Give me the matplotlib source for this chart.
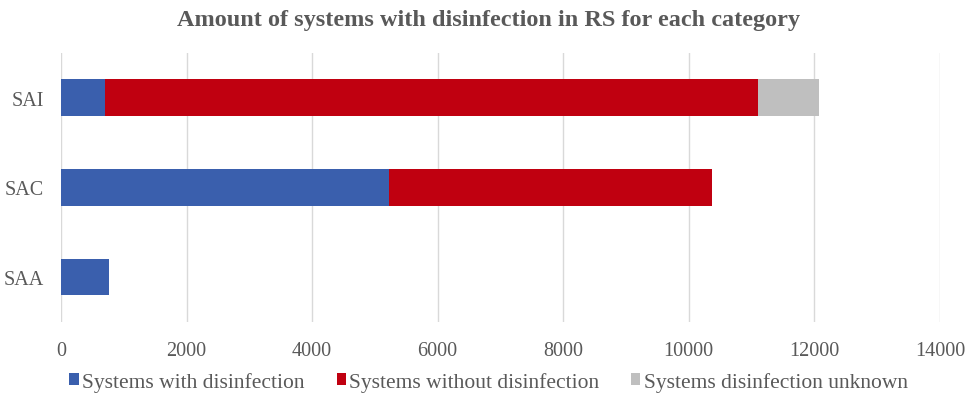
import matplotlib.pyplot as plt

categorias = ['SAA', 'SAC', 'SAI']
con_desinfeccion = [760, 5220, 700]
sin_desinfeccion = [0, 5150, 10400]
desconocido = [0, 0, 980]
etiquetas = ['Systems with disinfection', 'Systems without disinfection', 'Systems disinfection unknown']
colores = ['#3A5FAD', '#C00010', '#BFBFBF']

plt.rcParams['font.family'] = ['Liberation Serif', 'DejaVu Serif']

fig = plt.figure(figsize=(9.77, 4.02), dpi=100)
ax = fig.add_axes([0.0624, 0.197, 0.8996, 0.669])

izq = [0, 0, 0]
for valores, etiqueta, color in zip([con_desinfeccion, sin_desinfeccion, desconocido], etiquetas, colores):
    ax.barh(categorias, valores, left=izq, height=0.41, color=color, label=etiqueta, zorder=3)
    izq = [a + b for a, b in zip(izq, valores)]

ax.set_xlim(0, 14000)
ax.set_ylim(-0.5, 2.5)
ax.set_xticks(range(0, 14001, 2000))
ax.grid(axis='x', color='#D9D9D9', linewidth=1, zorder=0)
for lado in ['top', 'right', 'bottom', 'left']:
    ax.spines[lado].set_visible(False)
ax.tick_params(length=0, labelsize=14.5, colors='#595959')
ax.tick_params(axis='x', pad=14)
ax.tick_params(axis='y', pad=12)

fig.suptitle('Amount of systems with disinfection in RS for each category',
             y=0.975, fontsize=17.5, fontweight='bold', color='#595959')
fig.legend(loc='lower center', ncol=3, frameon=False, fontsize=15.5,
           bbox_to_anchor=(0.5, -0.025), handlelength=0.42, handleheight=0.5,
           handletextpad=0.15, columnspacing=1.5, labelcolor='#595959')

fig.savefig('out.png', dpi=100)
